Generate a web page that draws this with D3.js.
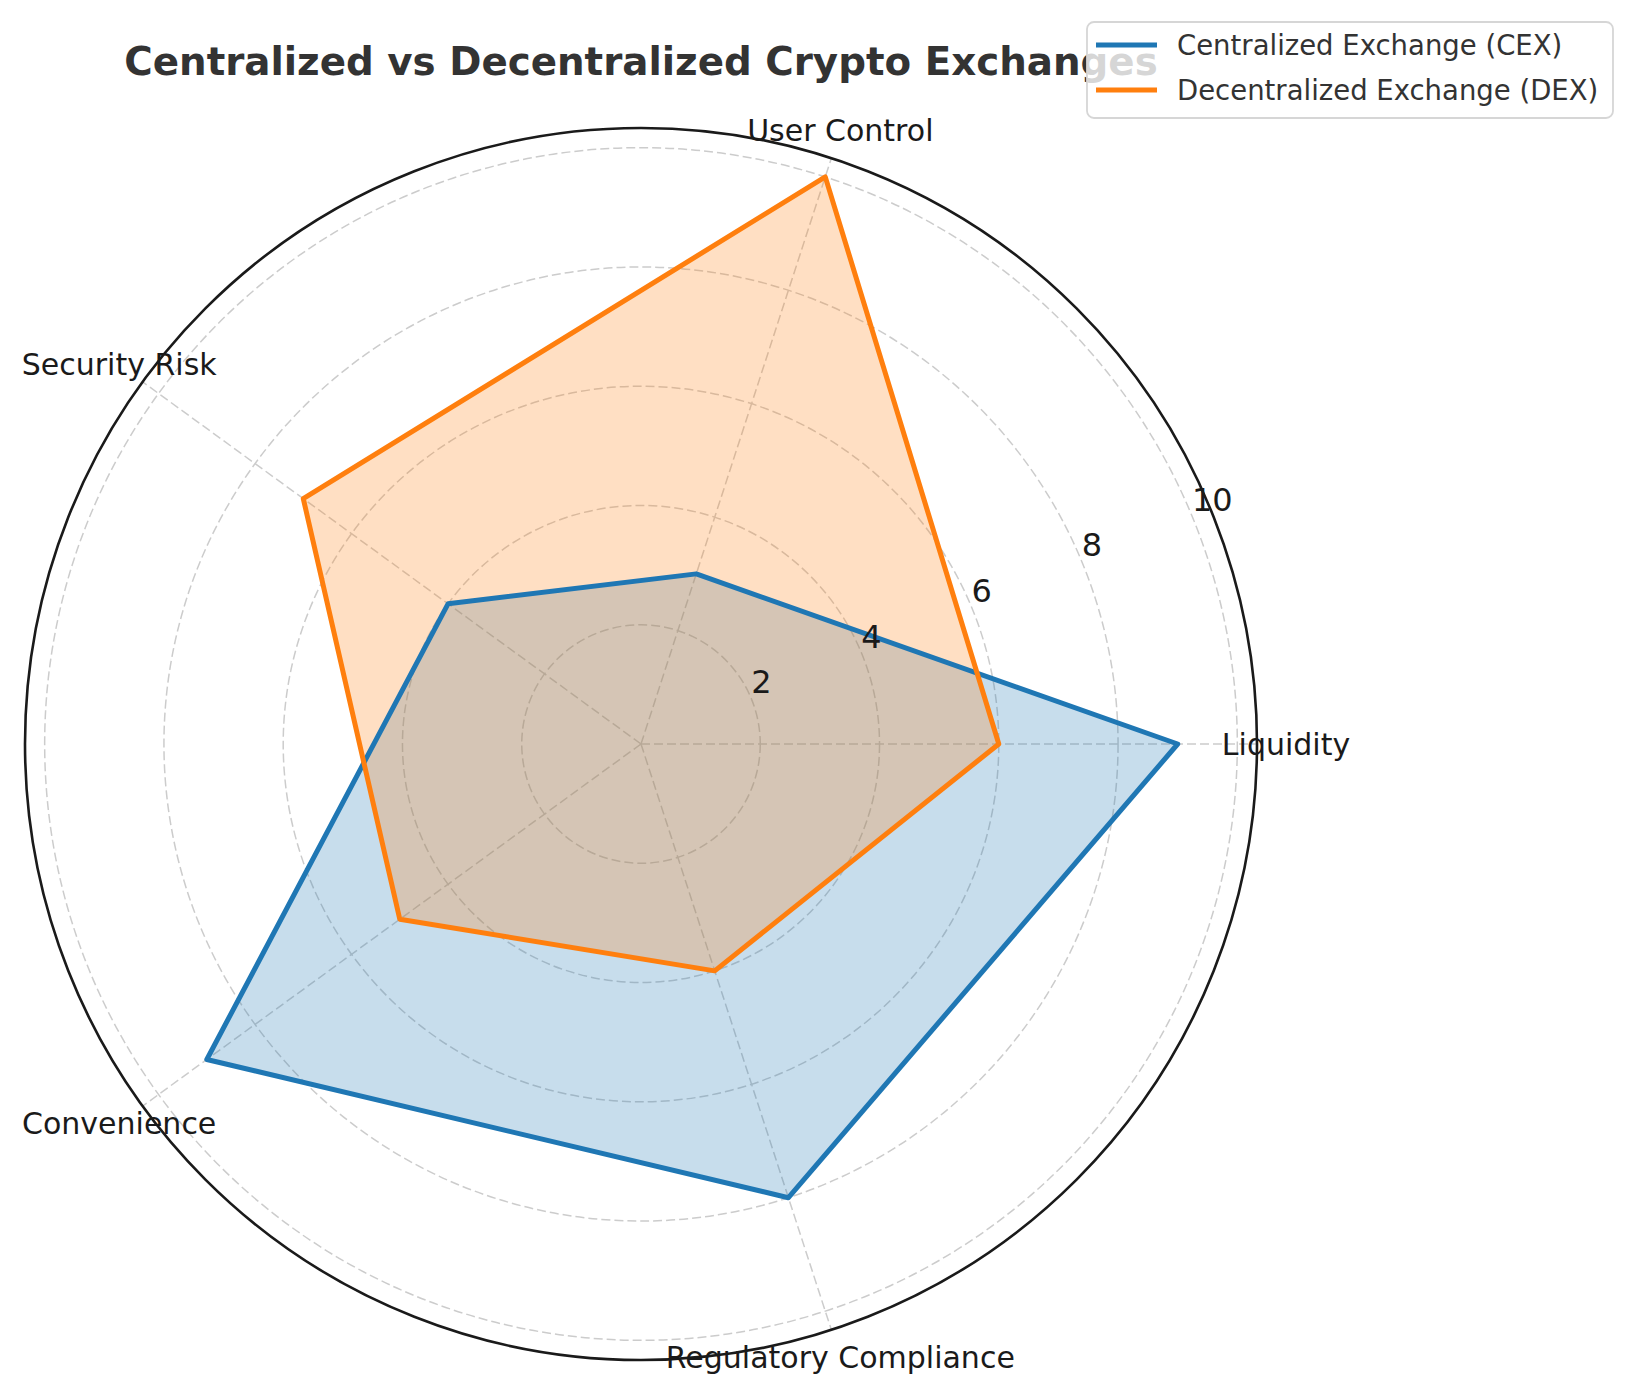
<!DOCTYPE html>
<html>
<head>
<meta charset="utf-8">
<script src="https://cdn.jsdelivr.net/npm/d3@7"></script>
<style>
  body { margin: 0; background: #fff; }
  text { font-family: "DejaVu Sans", sans-serif; }
</style>
</head>
<body>
<script>
var categories = ["Liquidity", "User Control", "Security Risk", "Convenience", "Regulatory Compliance"];
var cexValues = [9, 3, 4, 9, 8];
var dexValues = [6, 10, 7, 5, 4];
var seriesNames = ["Centralized Exchange (CEX)", "Decentralized Exchange (DEX)"];
var seriesColors = ["#1f77b4", "#ff7f0e"];
var radialTicks = [2, 4, 6, 8, 10];

var width = 1632, height = 1393;
var cx = 641, cy = 744, outerR = 616, rMax = 10.33;

var svg = d3.select("body").append("svg")
    .attr("width", width)
    .attr("height", height);

svg.append("rect").attr("width", width).attr("height", height).attr("fill", "#fff");

var r = d3.scaleLinear().domain([0, rMax]).range([0, outerR]);
// math angle, counter-clockwise from 3 o'clock
var a = d3.scaleLinear().domain([0, categories.length]).range([0, 2 * Math.PI]);

function px(i, v) { return cx + r(v) * Math.cos(a(i)); }
function py(i, v) { return cy - r(v) * Math.sin(a(i)); }

var main = svg.append("g");

// circular grid
main.selectAll(".grid-circle")
    .data(radialTicks)
    .enter().append("circle")
    .attr("cx", cx).attr("cy", cy)
    .attr("r", function(d) { return r(d); })
    .attr("fill", "none")
    .attr("stroke", "#cccccc")
    .attr("stroke-width", 1.5)
    .attr("stroke-dasharray", "9,4");

// spokes
main.selectAll(".spoke")
    .data(categories)
    .enter().append("line")
    .attr("x1", cx).attr("y1", cy)
    .attr("x2", function(d, i) { return px(i, rMax); })
    .attr("y2", function(d, i) { return py(i, rMax); })
    .attr("stroke", "#cccccc")
    .attr("stroke-width", 1.5)
    .attr("stroke-dasharray", "9,4");

// series
var radial = d3.lineRadial()
    .angle(function(d, i) { return Math.PI / 2 - a(i); })
    .radius(function(d) { return r(d); })
    .curve(d3.curveLinearClosed);

var g = main.append("g").attr("transform", "translate(" + cx + "," + cy + ")");
var series = [cexValues, dexValues];

// fills sit below all lines
series.forEach(function(vals, k) {
    g.append("path")
        .datum(vals)
        .attr("d", radial)
        .attr("fill", seriesColors[k])
        .attr("fill-opacity", 0.25)
        .attr("stroke", "none");
});
series.forEach(function(vals, k) {
    g.append("path")
        .datum(vals)
        .attr("d", radial)
        .attr("fill", "none")
        .attr("stroke", seriesColors[k])
        .attr("stroke-width", 5)
        .attr("stroke-linejoin", "round");
});

// outer frame
main.append("circle")
    .attr("cx", cx).attr("cy", cy).attr("r", outerR)
    .attr("fill", "none")
    .attr("stroke", "#1a1a1a")
    .attr("stroke-width", 2.6);

// radial tick labels
var tickAngle = 22.5 * Math.PI / 180;
main.selectAll(".rtick")
    .data(radialTicks)
    .enter().append("text")
    .attr("x", function(d) { return cx + r(d) * Math.cos(tickAngle); })
    .attr("y", function(d) { return cy - r(d) * Math.sin(tickAngle) - 16; })
    .attr("text-anchor", "start")
    .attr("dominant-baseline", "central")
    .attr("font-size", 32)
    .attr("fill", "#1a1a1a")
    .text(function(d) { return d; });

// category labels
main.selectAll(".cat")
    .data(categories)
    .enter().append("text")
    .attr("x", function(d, i) { return cx + (outerR + 29) * Math.cos(a(i)); })
    .attr("y", function(d, i) { return cy - (outerR + 29) * Math.sin(a(i)); })
    .attr("text-anchor", "middle")
    .attr("dominant-baseline", "central")
    .attr("font-size", 30)
    .attr("fill", "#1a1a1a")
    .text(function(d) { return d; });

// title
svg.append("text")
    .attr("x", cx)
    .attr("y", 75)
    .attr("text-anchor", "middle")
    .attr("font-size", 38.8)
    .attr("font-weight", "bold")
    .attr("fill", "#333333")
    .text("Centralized vs Decentralized Crypto Exchanges");

// legend
var legend = svg.append("g");
legend.append("rect")
    .attr("x", 1087).attr("y", 22)
    .attr("width", 526).attr("height", 96)
    .attr("rx", 7)
    .attr("fill", "#fff").attr("fill-opacity", 0.8)
    .attr("stroke", "#d6d6d6").attr("stroke-width", 1.8);

var items = legend.selectAll(".item")
    .data(seriesNames)
    .enter().append("g")
    .attr("transform", function(d, i) { return "translate(0," + (45 + i * 45) + ")"; });

items.append("line")
    .attr("x1", 1096).attr("x2", 1157)
    .attr("stroke", function(d, i) { return seriesColors[i]; })
    .attr("stroke-width", 5);

items.append("text")
    .attr("x", 1177)
    .attr("dominant-baseline", "central")
    .attr("font-size", 27.5)
    .attr("fill", "#333333")
    .text(function(d) { return d; });
</script>
</body>
</html>
